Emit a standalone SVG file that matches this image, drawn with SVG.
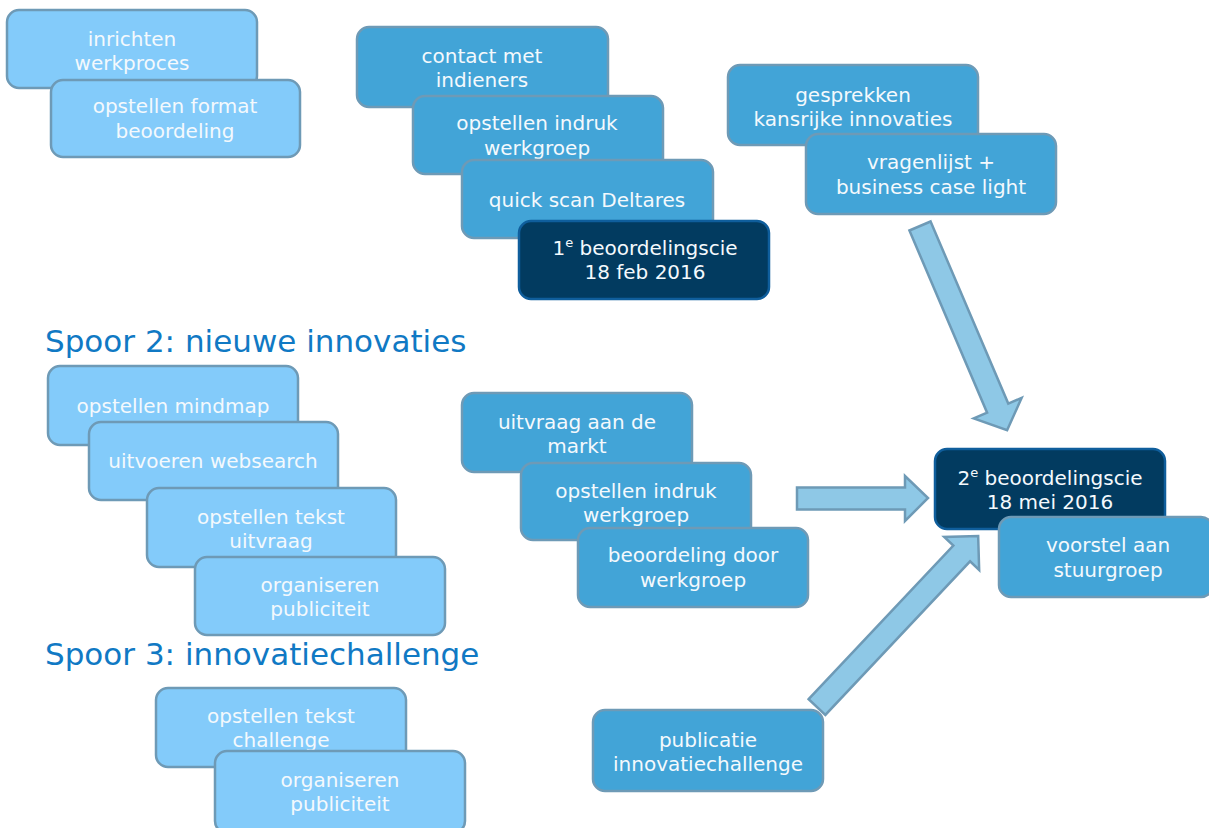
<svg xmlns="http://www.w3.org/2000/svg" width="1209" height="828" viewBox="0 0 1209 828">
<style>
.lt{fill:#83CBFA;stroke:#6E9AB6;stroke-width:2.5}
.md{fill:#42A4D7;stroke:#6E9AB6;stroke-width:2.5}
.dk{fill:#023B60;stroke:#0F5E9C;stroke-width:2.5}
.t{font-family:"DejaVu Sans",Verdana,sans-serif;font-size:20px;fill:#F4F9FD;text-anchor:middle}
.h{font-family:"DejaVu Sans",Verdana,sans-serif;font-size:31px;fill:#1079C4}
.ar{fill:#8EC8E6;stroke:#6E9AB6;stroke-width:2.5;stroke-linejoin:miter}
</style>
<rect width="1209" height="828" fill="#FFFFFF"/>

<g id="n-inrichten"><rect class="lt" x="7" y="10" width="250" height="78" rx="12"/><text class="t" x="132" y="46">inrichten</text><text class="t" x="132" y="70">werkproces</text></g>
<g id="n-format"><rect class="lt" x="51" y="80" width="249" height="77" rx="12"/><text class="t" x="175" y="113">opstellen format</text><text class="t" x="175" y="138">beoordeling</text></g>

<g id="n-contact"><rect class="md" x="357" y="27" width="251" height="80" rx="12"/><text class="t" x="482" y="63">contact met</text><text class="t" x="482" y="87">indieners</text></g>
<g id="n-indruk1"><rect class="md" x="413" y="96" width="250" height="78" rx="12"/><text class="t" x="537" y="130">opstellen indruk</text><text class="t" x="537" y="155">werkgroep</text></g>
<g id="n-quickscan"><rect class="md" x="462" y="160" width="251" height="78" rx="12"/><text class="t" x="587" y="207">quick scan Deltares</text></g>
<g id="n-cie1"><rect class="dk" x="519" y="221" width="250" height="78" rx="12"/><text class="t" x="645" y="255">1<tspan font-size="13" dy="-8">e</tspan><tspan dy="8"> beoordelingscie</tspan></text><text class="t" x="645" y="279">18 feb 2016</text></g>

<g id="n-gesprekken"><rect class="md" x="728" y="65" width="250" height="80" rx="12"/><text class="t" x="853" y="102">gesprekken</text><text class="t" x="853" y="126">kansrijke innovaties</text></g>
<g id="n-vragenlijst"><rect class="md" x="806" y="134" width="250" height="80" rx="12"/><text class="t" x="931" y="169">vragenlijst +</text><text class="t" x="931" y="194">business case light</text></g>

<text id="h-spoor2" class="h" x="45" y="352">Spoor 2: nieuwe innovaties</text>
<g id="n-mindmap"><rect class="lt" x="48" y="366" width="250" height="79" rx="12"/><text class="t" x="173" y="413">opstellen mindmap</text></g>
<g id="n-websearch"><rect class="lt" x="89" y="422" width="249" height="78" rx="12"/><text class="t" x="213" y="468">uitvoeren websearch</text></g>
<g id="n-tekstuitvraag"><rect class="lt" x="147" y="488" width="249" height="79" rx="12"/><text class="t" x="271" y="524">opstellen tekst</text><text class="t" x="271" y="548">uitvraag</text></g>
<g id="n-publiciteit2"><rect class="lt" x="195" y="557" width="250" height="78" rx="12"/><text class="t" x="320" y="592">organiseren</text><text class="t" x="320" y="616">publiciteit</text></g>

<text id="h-spoor3" class="h" x="45" y="665">Spoor 3: innovatiechallenge</text>
<g id="n-tekstchallenge"><rect class="lt" x="156" y="688" width="250" height="79" rx="12"/><text class="t" x="281" y="723">opstellen tekst</text><text class="t" x="281" y="747">challenge</text></g>
<g id="n-publiciteit3"><rect class="lt" x="215" y="751" width="250" height="82" rx="12"/><text class="t" x="340" y="787">organiseren</text><text class="t" x="340" y="811">publiciteit</text></g>

<g id="n-uitvraagmarkt"><rect class="md" x="462" y="393" width="230" height="79" rx="12"/><text class="t" x="577" y="429">uitvraag aan de</text><text class="t" x="577" y="453">markt</text></g>
<g id="n-indruk2"><rect class="md" x="521" y="463" width="230" height="77" rx="12"/><text class="t" x="636" y="498">opstellen indruk</text><text class="t" x="636" y="522">werkgroep</text></g>
<g id="n-beoordeling"><rect class="md" x="578" y="528" width="230" height="79" rx="12"/><text class="t" x="693" y="562">beoordeling door</text><text class="t" x="693" y="587">werkgroep</text></g>

<g id="n-publicatie"><rect class="md" x="593" y="710" width="230" height="81" rx="12"/><text class="t" x="708" y="747">publicatie</text><text class="t" x="708" y="771">innovatiechallenge</text></g>

<g id="n-cie2"><rect class="dk" x="935" y="449" width="230" height="80" rx="12"/><text class="t" x="1050" y="485">2<tspan font-size="13" dy="-8">e</tspan><tspan dy="8"> beoordelingscie</tspan></text><text class="t" x="1050" y="509">18 mei 2016</text></g>
<g id="n-voorstel"><rect class="md" x="999" y="517" width="214" height="80" rx="12"/><text class="t" x="1108" y="552">voorstel aan</text><text class="t" x="1108" y="577">stuurgroep</text></g>

<g id="connectors">
<polygon class="ar" transform="translate(920,226) rotate(66.9)" points="0,-11.5 198,-11.5 198,-26 222,0 198,26 198,11.5 0,11.5"/>
<polygon class="ar" points="797,487.5 905,487.5 905,476 928,498 905,521 905,509.5 797,509.5"/>
<polygon class="ar" transform="translate(817,707) rotate(-46.7)" points="0,-11.5 211,-11.5 211,-24 235,0 211,24 211,11.5 0,11.5"/>
</g>
</svg>
